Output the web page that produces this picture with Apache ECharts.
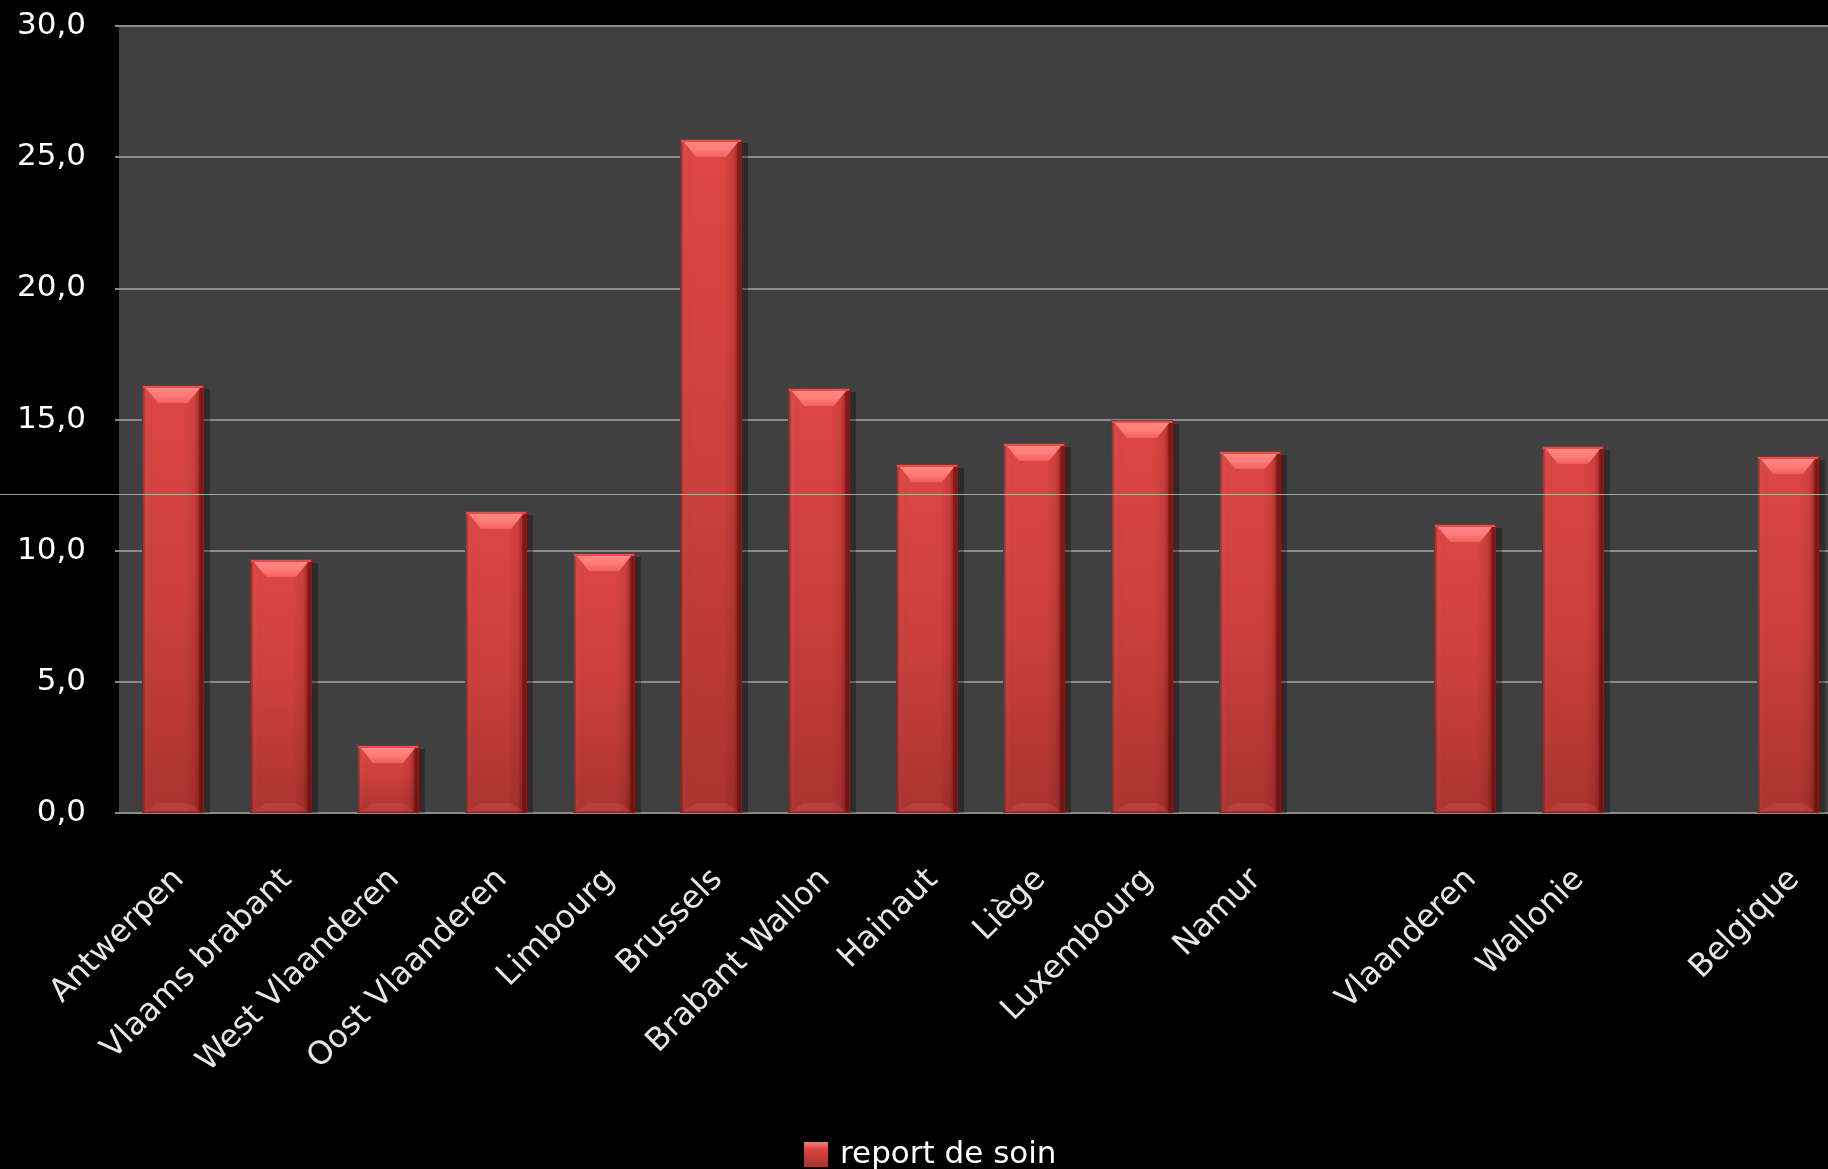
<!DOCTYPE html>
<html>
<head>
<meta charset="utf-8">
<title>report de soin</title>
<script src="https://cdn.jsdelivr.net/npm/echarts@6/dist/echarts.min.js"></script>
<style>
  html, body { margin: 0; padding: 0; background: #000; overflow: hidden; }
  /* the original picture is cropped on the right: draw a little wider than the window */
  #chart { width: 1842px; height: 1169px; }
</style>
</head>
<body>
<div id="chart"></div>
<script>
// categories (two empty slots separate provinces / regions / country)
const categories = ['Antwerpen', 'Vlaams brabant', 'West Vlaanderen', 'Oost Vlaanderen', 'Limbourg',
  'Brussels', 'Brabant Wallon', 'Hainaut', 'Liège', 'Luxembourg', 'Namur', '',
  'Vlaanderen', 'Wallonie', '', 'Belgique']
const values = [16.3, 9.7, 2.6, 11.5, 9.9, 25.7, 16.2, 13.3, 14.1, 15.0, 13.8, null, 11.0, 14.0, null, 13.6]
const seriesName = 'report de soin'
const yTicks = { min: 0, max: 30, interval: 5 }
const refLineValue = 12.15   // thin stray line across the picture

const FONT = "'DejaVu Sans', 'Open Sans', sans-serif"
const GRID_C = '#8a8a8a'
const BAR_RATIO = 0.58

const chart = echarts.init(document.getElementById('chart'), null, { renderer: 'canvas' })

function lin(x2, y2, stops) {
  return { type: 'linear', x: 0, y: 0, x2, y2, colorStops: stops.map(([o, c]) => ({ offset: o, color: c })) }
}

function renderBar(params, api) {
  const idx = api.value(0), v = api.value(1)
  const p = api.coord([idx, v]), p0 = api.coord([idx, 0])
  const w = Math.round(api.size([1, 0])[0] * BAR_RATIO)
  const x = Math.round(p[0] - w / 2), y = Math.round(p[1])
  const h = Math.round(p0[1]) - y
  const bev = Math.min(15, h * 0.4)
  const ins = 12
  return {
    type: 'group',
    children: [
      { type: 'rect', shape: { x: x + 3, y: y + 4, width: w + 3, height: h - 4 }, style: { fill: 'rgba(0,0,0,0.3)' } },
      { type: 'rect', shape: { x, y, width: w, height: h },
        style: { fill: lin(0, 1, [[0, '#dd4743'], [0.5, '#cc403c'], [1, '#aa3330']]) } },
      { type: 'rect', shape: { x, y, width: w, height: h },
        style: { fill: lin(1, 0, [[0, 'rgba(110,20,20,0.55)'], [0.04, 'rgba(120,25,25,0.35)'], [0.07, 'rgba(255,120,120,0.06)'],
          [0.2, 'rgba(0,0,0,0)'], [0.7, 'rgba(0,0,0,0)'], [0.85, 'rgba(90,15,15,0.12)'], [0.91, 'rgba(80,12,12,0.35)'],
          [0.93, 'rgba(80,10,10,0.65)'], [1, 'rgba(70,10,10,0.75)']]) } },
      { type: 'rect', shape: { x, y, width: w, height: 3 }, style: { fill: '#e0504c' } },
      { type: 'polygon', shape: { points: [[x + 4, y + 3], [x + w - 4, y + 3], [x + w - 4 - ins, y + 3 + bev], [x + 4 + ins, y + 3 + bev]] },
        style: { fill: lin(0, 1, [[0, '#ff8784'], [0.5, '#ff7b78'], [1, '#f0605c']]) } },
      { type: 'polygon', shape: { points: [[x + 4 + ins, y + h - 10], [x + w - 4 - ins, y + h - 10], [x + w - 4, y + h - 2], [x + 4, y + h - 2]] },
        style: { fill: 'rgba(255,150,150,0.13)' } },
      { type: 'rect', shape: { x: x + 0.5, y: y + 0.5, width: w - 1, height: h - 1 },
        style: { fill: null, stroke: 'rgba(130,35,33,0.8)', lineWidth: 1 } },
    ],
  }
}

const option = {
  backgroundColor: '#000',
  animation: false,
  textStyle: { fontFamily: FONT },
  grid: { left: 119, top: 26, right: 0, height: 787, show: true, backgroundColor: '#404040', borderWidth: 0, containLabel: false },
  legend: {
    left: 804, top: 1139, padding: 0, itemWidth: 24, itemHeight: 25,
    data: [{ name: seriesName, icon: 'rect',
      itemStyle: { color: lin(0, 1, [[0, '#ff7a77'], [0.3, '#d8443f'], [1, '#a53230']]) } }],
    textStyle: { color: '#fff', fontSize: 31, fontFamily: FONT, padding: [0, 0, 0, 7] },
  },
  xAxis: {
    type: 'category', data: categories,
    axisLine: { show: false }, axisTick: { show: false }, splitLine: { show: false },
    axisLabel: { interval: 0, rotate: 45, margin: 68, color: '#e6e6e6', fontSize: 32, fontFamily: FONT,
      padding: [0, -9, 0, 0] },
  },
  yAxis: {
    type: 'value', min: yTicks.min, max: yTicks.max, interval: yTicks.interval,
    axisLine: { show: false },
    axisTick: { show: true, length: 4, lineStyle: { color: GRID_C, width: 2 } },
    splitLine: { show: true, lineStyle: { color: GRID_C, width: 2 } },
    axisLabel: { color: '#fff', fontSize: 31, fontFamily: FONT, margin: 33,
      formatter: v => v.toFixed(1).replace('.', ',') },
  },
  series: [{
    name: seriesName, type: 'custom', renderItem: renderBar,
    itemStyle: { color: '#d6423e' },
    encode: { x: 0, y: 1 },
    data: values.map((v, i) => [i, v]).filter(d => d[1] != null),
    z: 3,
  }],
}

chart.setOption(option)

const ly = Math.round(chart.convertToPixel({ yAxisIndex: 0 }, refLineValue)) + 0.5
chart.setOption({
  graphic: [{ type: 'line', z: 100, shape: { x1: 0, y1: ly, x2: 1842, y2: ly },
    style: { stroke: 'rgba(200,200,200,0.75)', lineWidth: 1 } }],
})
</script>
</body>
</html>
